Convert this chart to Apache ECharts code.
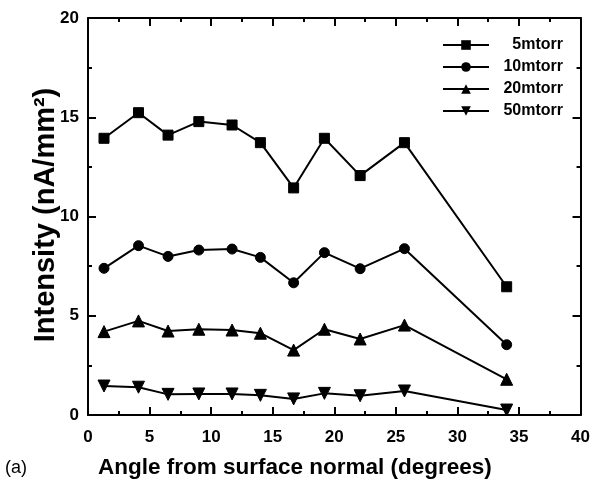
<!DOCTYPE html>
<html>
<head>
<meta charset="utf-8">
<script src="https://cdn.jsdelivr.net/npm/echarts@6/dist/echarts.min.js"></script>
<style>html,body{margin:0;padding:0;background:#fff;}#c{width:593px;height:489px;}</style>
</head>
<body>
<div id="c"></div>
<script>
const angles = [1.3, 4.1, 6.5, 9.0, 11.7, 14.0, 16.7, 19.2, 22.1, 25.7, 34.0];
const s5mtorr  = [13.94, 15.23, 14.1, 14.78, 14.61, 13.72, 11.44, 13.94, 12.06, 13.72, 6.46];
const s10mtorr = [7.39, 8.53, 7.99, 8.31, 8.36, 7.94, 6.66, 8.18, 7.37, 8.38, 3.54];
const s20mtorr = [4.20, 4.74, 4.23, 4.32, 4.28, 4.12, 3.27, 4.32, 3.83, 4.53, 1.80];
const s50mtorr = [1.46, 1.40, 1.04, 1.06, 1.06, 0.99, 0.81, 1.09, 0.97, 1.21, 0.25];
const seriesNames = ['5mtorr', '10mtorr', '20mtorr', '50mtorr'];
const xTicks = [0, 5, 10, 15, 20, 25, 30, 35, 40];
const yTicks = [0, 5, 10, 15, 20];

const FONT = '"Liberation Sans", Arial, sans-serif';
const chart = echarts.init(document.getElementById('c'), null, {renderer: 'canvas'});

function pairs(vals) { return angles.map((a, i) => [a, vals[i]]); }

const axisCommon = {
  type: 'value',
  axisLine: {show: true, onZero: false, lineStyle: {color: '#000', width: 2}},
  axisTick: {show: true, inside: true, length: 8, lineStyle: {color: '#000', width: 2}},
  minorTick: {show: true, splitNumber: 2, length: 4, lineStyle: {color: '#000', width: 2}},
  splitLine: {show: false},
  interval: 5
};

const markers = [
  {symbol: 'rect', size: 10, rotate: 0},
  {symbol: 'circle', size: 10, rotate: 0},
  {symbol: 'triangle', size: 12, rotate: 0},
  {symbol: 'triangle', size: 12, rotate: 180}
];
const dataSets = [s5mtorr, s10mtorr, s20mtorr, s50mtorr];

const option = {
  backgroundColor: '#fff',
  animation: false,
  grid: {left: 88, right: 9, top: 18, bottom: 74},
  legend: {
    orient: 'vertical',
    left: 437,
    top: 32,
    itemWidth: 46,
    itemHeight: 12,
    itemGap: 6,
    data: seriesNames,
    formatter: name => '{t|' + name + '}',
    textStyle: {
      rich: {t: {width: 69, align: 'right', fontFamily: FONT, fontWeight: 'bold', fontSize: 16, color: '#000', lineHeight: 16}}
    }
  },
  xAxis: [
    Object.assign({}, axisCommon, {
      min: xTicks[0], max: xTicks[xTicks.length - 1], position: 'bottom',
      axisLabel: {show: true, margin: 14, fontFamily: FONT, fontWeight: 'bold', fontSize: 17, color: '#000'}
    }),
    Object.assign({}, axisCommon, {
      min: xTicks[0], max: xTicks[xTicks.length - 1], position: 'top',
      axisLabel: {show: false}
    })
  ],
  yAxis: [
    Object.assign({}, axisCommon, {
      min: yTicks[0], max: yTicks[yTicks.length - 1], position: 'left',
      axisLabel: {show: true, margin: 9, fontFamily: FONT, fontWeight: 'bold', fontSize: 17, color: '#000'}
    }),
    Object.assign({}, axisCommon, {
      min: yTicks[0], max: yTicks[yTicks.length - 1], position: 'right',
      axisLabel: {show: false}
    })
  ],
  graphic: [
    {type: 'text', left: 98, top: 456, style: {text: 'Angle from surface normal (degrees)', font: 'bold 22.5px ' + FONT, fill: '#000'}},
    {type: 'text', left: 5, top: 459, style: {text: '(a)', font: '18px ' + FONT, fill: '#000'}},
    {type: 'text', x: 46, y: 215, rotation: Math.PI / 2,
     style: {text: 'Intensity (nA/mm²)', font: 'bold 29px ' + FONT, fill: '#000', align: 'center', verticalAlign: 'middle'}}
  ],
  series: dataSets.map((d, i) => ({
    name: seriesNames[i],
    type: 'line',
    xAxisIndex: 0,
    yAxisIndex: 0,
    data: pairs(d),
    symbol: markers[i].symbol,
    symbolSize: markers[i].size,
    symbolRotate: markers[i].rotate,
    showAllSymbol: true,
    lineStyle: {color: '#000', width: 2},
    itemStyle: {color: '#000', borderColor: '#000'}
  }))
};
chart.setOption(option);
</script>
</body>
</html>
